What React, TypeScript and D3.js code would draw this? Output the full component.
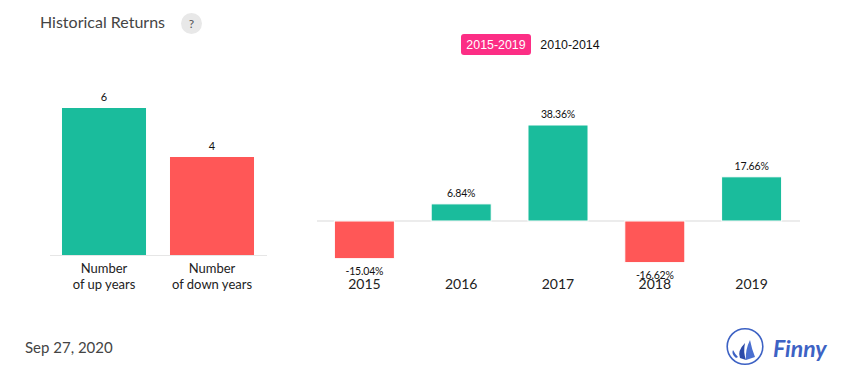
import React from "react";
import * as d3 from "d3";

const W = 855, H = 382;
const countCategories = ["up", "down"];
const countValues = [6, 4];
const countLines = [["Number", "of up years"], ["Number", "of down years"]];
const years = ["2015", "2016", "2017", "2018", "2019"];
const returns = [-15.04, 6.84, 38.36, -16.62, 17.66];
const periods = ["2015-2019", "2010-2014"];
const GREEN = "#1abc9c", RED = "#ff5757", AXIS = "#e6e6e6", LATO = "Lato, sans-serif";

export default function App() {
  const x1 = d3.scaleBand().domain(countCategories).range([50, 266]).paddingInner(0.222).paddingOuter(0.111);
  const y1 = d3.scaleLinear().domain([0, 6]).range([255, 108]);
  const x2 = d3.scaleBand().domain(years).range([316, 800]).paddingInner(0.38).paddingOuter(0.19);
  const y2 = d3.scaleLinear().domain([0, 38.36]).range([221, 125]);
  return (
    <svg width={W} height={H} style={{ position: "absolute", left: 0, top: 0, background: "#fff" }} fontFamily={LATO}>
      <text x={40} y={28} fontSize={16} fill="#444">Historical Returns</text>
      <circle cx={191.5} cy={23.5} r={10.5} fill="#e8e8e8" />
      <text x={191.5} y={28} fontSize={12} textAnchor="middle" fill="#555">?</text>

      <rect x={461} y={34} width={70} height={21} rx={3} fill="#fc2e85" />
      <text x={496} y={49} fontSize={12.4} fontFamily="Liberation Sans, Arial, sans-serif" textAnchor="middle" fill="#fff">{periods[0]}</text>
      <text x={570} y={49} fontSize={12.4} fontFamily="Liberation Sans, Arial, sans-serif" textAnchor="middle" fill="#111">{periods[1]}</text>

      <line x1={50} x2={267} y1={255.5} y2={255.5} stroke={AXIS} />
      {countCategories.map((c, i) => (
        <g key={c}>
          <rect x={x1(c)} y={y1(countValues[i])} width={x1.bandwidth()} height={y1(0) - y1(countValues[i])} fill={i === 0 ? GREEN : RED} />
          <text x={x1(c)! + x1.bandwidth() / 2} y={y1(countValues[i]) - 7} fontSize={11} textAnchor="middle" fill="#111">{countValues[i]}</text>
          <text x={x1(c)! + x1.bandwidth() / 2} y={273} fontSize={13} textAnchor="middle" fill="#222">{countLines[i][0]}</text>
          <text x={x1(c)! + x1.bandwidth() / 2} y={289} fontSize={13} textAnchor="middle" fill="#222">{countLines[i][1]}</text>
        </g>
      ))}

      <line x1={317} x2={800} y1={221} y2={221} stroke={AXIS} strokeWidth={1.5} />
      {years.map((yr, i) => {
        const v = returns[i];
        const top = Math.min(y2(v), y2(0));
        const h = Math.abs(y2(v) - y2(0));
        const cx = x2(yr)! + x2.bandwidth() / 2;
        return (
          <g key={yr}>
            <rect x={x2(yr)} y={top} width={x2.bandwidth()} height={h} fill={v >= 0 ? GREEN : RED} stroke="#fff" strokeWidth={1} />
            <text x={cx} y={v >= 0 ? top - 7 : top + h + 16} fontSize={10.5} letterSpacing={-0.2} textAnchor="middle" fill="#111">{v.toFixed(2)}%</text>
            <text x={cx} y={289} fontSize={14} textAnchor="middle" fill="#222">{yr}</text>
          </g>
        );
      })}

      <text x={25} y={353} fontSize={15} fill="#444">Sep 27, 2020</text>

      <circle cx={745} cy={346.5} r={17.8} fill="none" stroke="#3d62c4" strokeWidth={1.6} />
      <path d="M733 350 Q731 354 736 358 L738 357 Q735 354 733 350 Z" fill="#3d62c4" />
      <path d="M745 343 Q737 351 740 358 L746 360 Q743 352 745 343 Z" fill="#2c4aa8" />
      <path d="M750 340 Q745 350 746 360 L755 357 Q752 350 750 340 Z" fill="#4a6fd0" />
      <text x={773} y={357} fontSize={23} fontStyle="italic" fontWeight={700} fontFamily="Lato, sans-serif" fill="#3d62c4">Finny</text>
    </svg>
  );
}
